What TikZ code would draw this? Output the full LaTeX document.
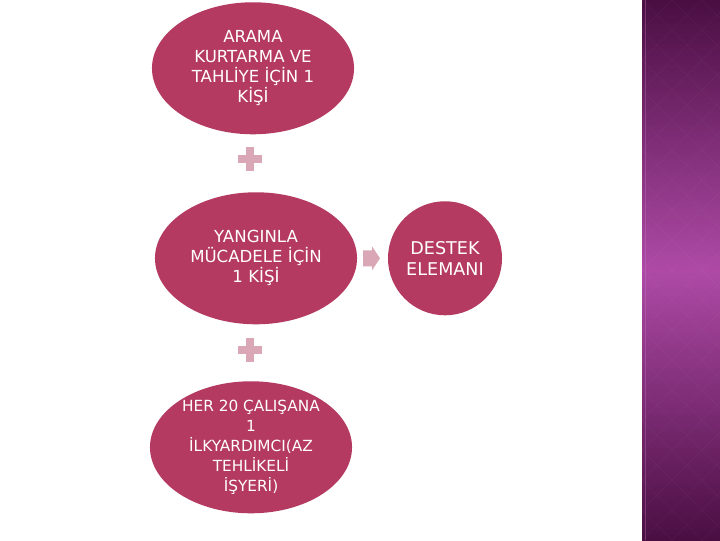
\documentclass[tikz,border=0pt]{standalone}
\usepackage{fontspec}
\setmainfont{DejaVu Sans}
\usetikzlibrary{shapes.geometric, calc}
\definecolor{crimson}{HTML}{B53A62}
\definecolor{pinklt}{HTML}{D9A7B5}
\definecolor{plumdark}{HTML}{4A0E42}
\definecolor{plummid}{HTML}{AE4AA6}
\tikzset{
  bubble/.style={ellipse, fill=crimson, draw=none, text=white, align=center,
    minimum width=5.05cm, minimum height=3.3cm, inner sep=-12pt,
    font=\fontsize{11.8}{14.3}\selectfont},
  bubbleR/.style={bubble, circle, minimum size=2.85cm,
    font=\fontsize{12.5}{15.3}\selectfont},
  plusmark/.style={fill=pinklt},
  arrowmark/.style={fill=pinklt},
}
\begin{document}
\begin{tikzpicture}[x=0.025cm, y=0.025cm]
\fill[white] (0,0) rectangle (720,540);
% side band
\shade[top color=plumdark, bottom color=plumdark, middle color=plummid] (642,0) rectangle (720,540);
\draw[plummid!70!white, opacity=0.35] (645.5,0) -- (645.5,540);
\begin{scope}
\clip (642,0) rectangle (720,540);
\foreach \k in {-600,-570,...,660}
  \draw[white, opacity=0.035] (642,\k) -- ++(600,600) (642,\k+600) -- ++(600,-600);
\end{scope}
% bubbles
\node[bubble] (arama) at (253,472) {ARAMA\\KURTARMA VE\\TAHLİYE İÇİN 1\\KİŞİ};
\node[bubble] (yangin) at (256,282) {YANGINLA\\MÜCADELE İÇİN\\1 KİŞİ};
\node[bubble, font=\fontsize{10.9}{14.3}\selectfont] (ilkyard) at (251,93) {HER 20 ÇALIŞANA\\1\\İLKYARDIMCI(AZ\\TEHLİKELİ\\İŞYERİ)};
\node[bubbleR] (destek) at (445,282) {DESTEK\\ELEMANI};
% plus signs
\coordinate (plusA) at (250,381);
\coordinate (plusB) at (250,190);
\foreach \p in {plusA, plusB} {
  \fill[plusmark] (\p) ++(-4,-12) rectangle ++(8,24);
  \fill[plusmark] (\p) ++(-12,-4) rectangle ++(24,8);
}
% arrow
\coordinate (arr) at (371,282);
\fill[arrowmark] (arr) ++(-8,-8) -- ++(9,0) -- ++(0,-4) -- ++(8,12) -- ++(-8,12) -- ++(0,-4) -- ++(-9,0) -- cycle;
\end{tikzpicture}
\end{document}
